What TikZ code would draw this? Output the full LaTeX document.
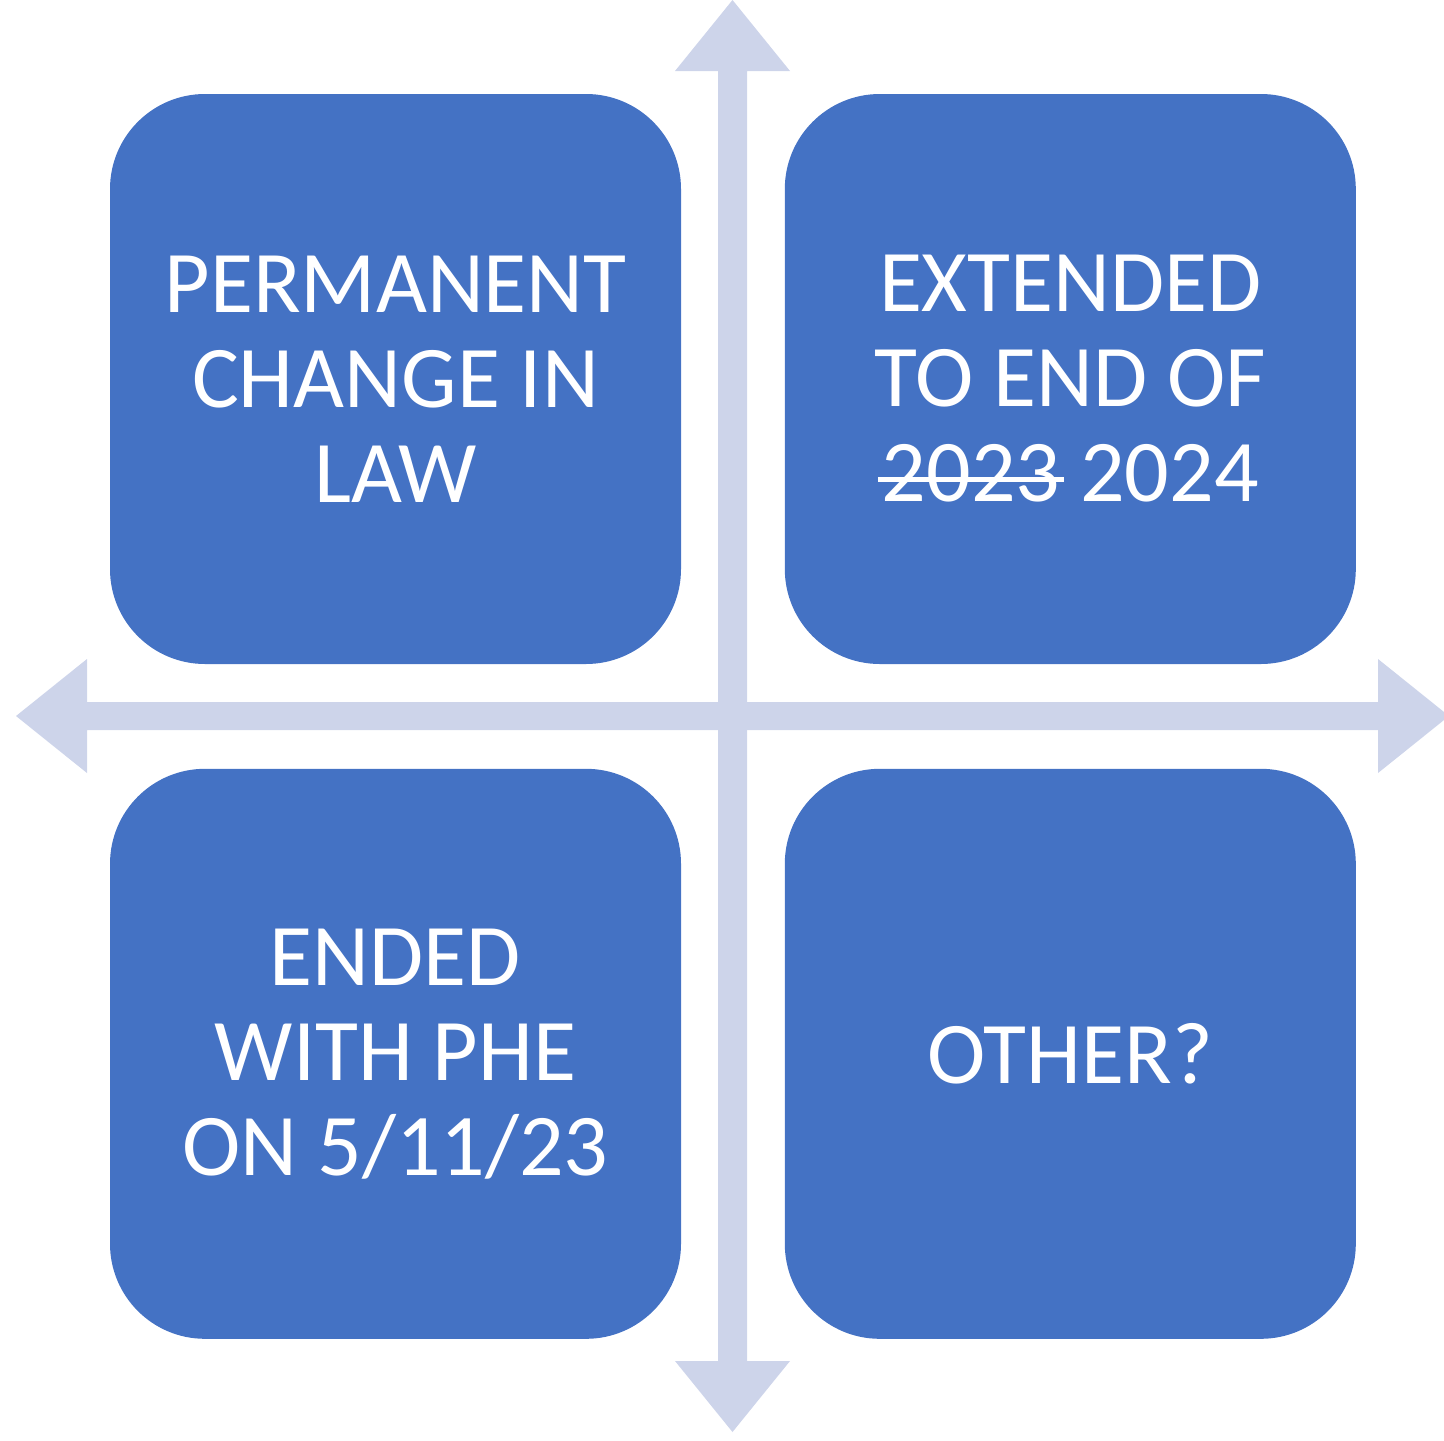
\documentclass[tikz,border=0pt]{standalone}
\usepackage{fontspec}
\setmainfont{Carlito}
\usetikzlibrary{positioning}
\definecolor{quad}{HTML}{4472C4}
\definecolor{axis}{HTML}{CDD4EA}
\newsavebox{\strikebox}
\newcommand{\struck}[1]{\sbox{\strikebox}{#1}%
  \rlap{\kern-2pt\rule[10pt]{\dimexpr\wd\strikebox+4pt\relax}{2.5pt}}\usebox{\strikebox}}

\begin{document}
\begin{tikzpicture}[
    x=0.5pt, y=-0.5pt,
    node distance=52pt and 51.5pt,
    quadbox/.style={fill=quad, rounded corners=47.5pt, inner sep=0pt,
                    minimum width=285.5pt, minimum height=285pt,
                    text=white, align=center,
                    font=\fontsize{44}{47.5}\selectfont},
    axisarrow/.style={fill=axis, draw=none},
]
\useasboundingbox (0,0) rectangle (1444,1440);

% axes
\fill[axisarrow] (718,71) -- (675,71) -- (732.5,0) -- (790,71) -- (747,71)
  -- (747,1361) -- (790,1361) -- (732.5,1432) -- (675,1361) -- (718,1361) -- cycle;
\fill[axisarrow] (87,702) -- (87,659) -- (16,716) -- (87,773) -- (87,730)
  -- (1378,730) -- (1378,773) -- (1449,716) -- (1378,659) -- (1378,702) -- cycle;

% quadrants
\node[quadbox] (perm) at (395.5,379) {PERMANENT\\CHANGE IN\\LAW};
\node[quadbox, right=of perm] (ext) {EXTENDED\\TO END OF\\\struck{2023} 2024};
\node[quadbox, below=of perm] (phe) {ENDED\\WITH PHE\\ON 5/11/23};
\node[quadbox, right=of phe] (other) {OTHER?};

\end{tikzpicture}
\end{document}
